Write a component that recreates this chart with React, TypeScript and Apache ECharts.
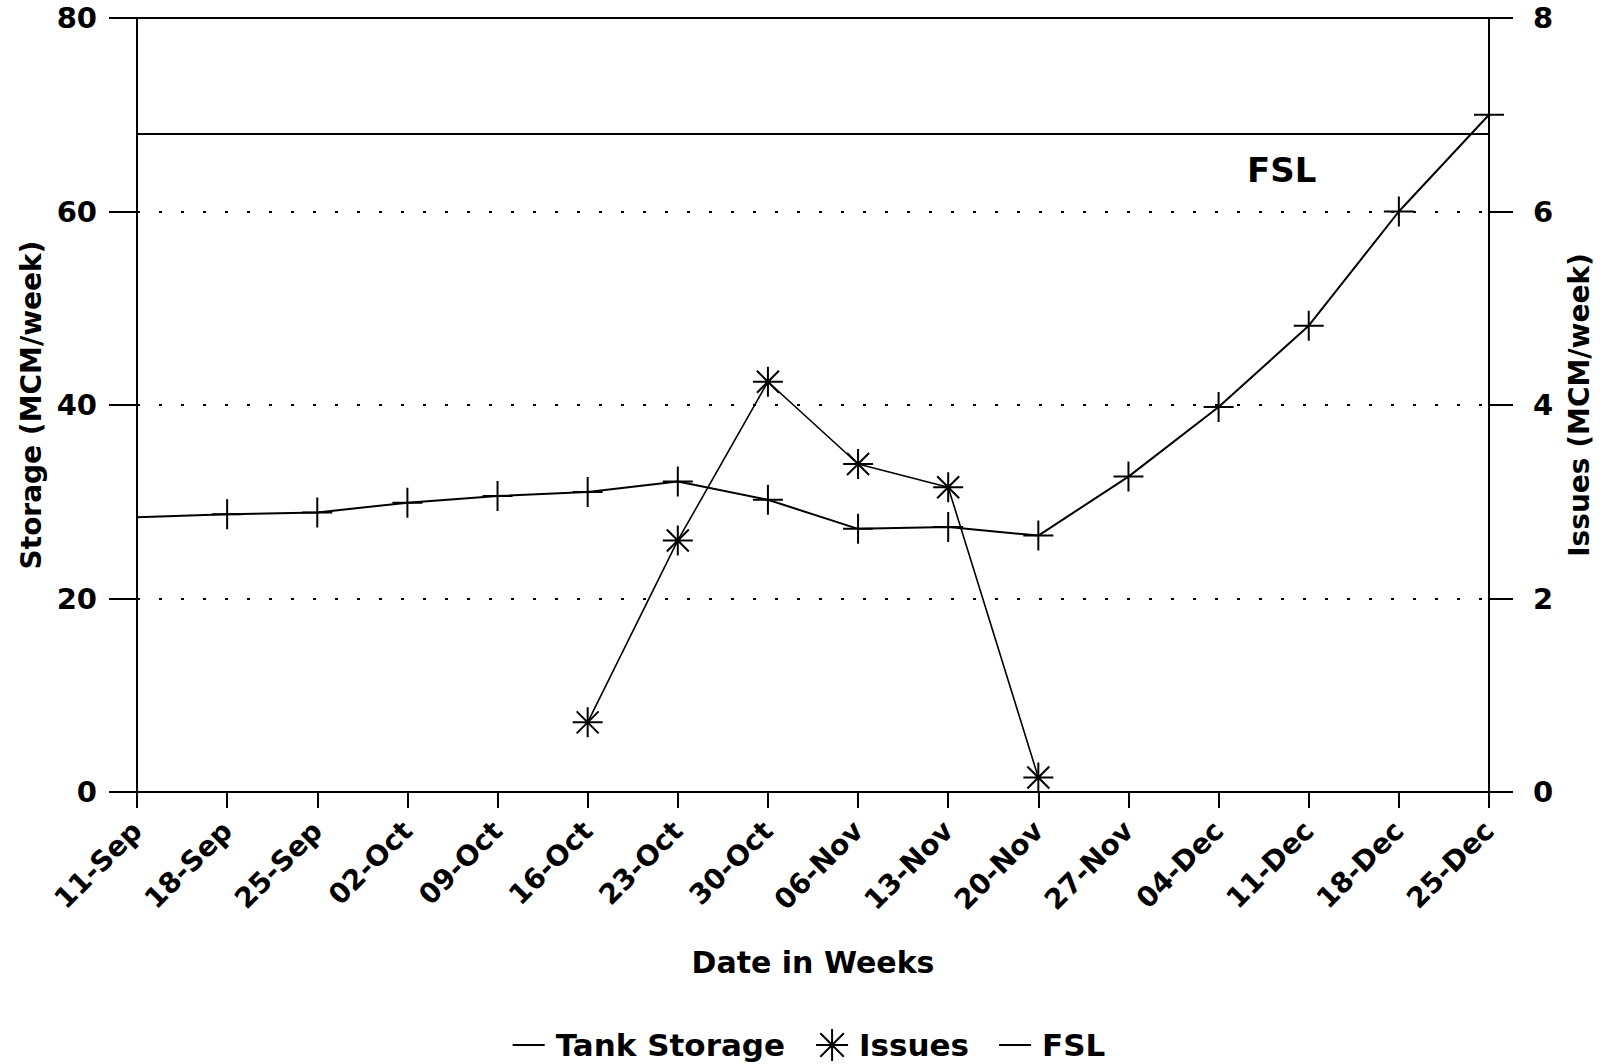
import React, { useEffect, useRef } from "react";
import * as echarts from "echarts";

const categories = [
  "11-Sep", "18-Sep", "25-Sep", "02-Oct", "09-Oct", "16-Oct", "23-Oct", "30-Oct",
  "06-Nov", "13-Nov", "20-Nov", "27-Nov", "04-Dec", "11-Dec", "18-Dec", "25-Dec",
];
const tankStorage = [28.4, 28.7, 28.9, 29.9, 30.6, 31.0, 32.1, 30.2, 27.2, 27.4, 26.5, 32.6, 39.8, 48.2, 60.0, 70.0];
const issues = [null, null, null, null, null, 0.72, 2.6, 4.24, 3.39, 3.15, 0.15, null, null, null, null, null];
const fsl = [68, 68, 68, 68, 68, 68, 68, 68, 68, 68, 68, 68, 68, 68, 68, 68];

const FONT = "DejaVu Sans";
const CROSS = "path://M0,15 L30,15 M15,0 L15,30";
const STAR = "path://M0,15 L30,15 M15,0 L15,30 M4,4 L26,26 M26,4 L4,26";
const DASH = "path://M0,0 L30,0 L30,2 L0,2 Z";

export default function App() {
  const ref = useRef<HTMLDivElement>(null);
  useEffect(() => {
    document.body.style.margin = "0";
    const chart = echarts.init(ref.current!, null, { renderer: "svg" });
    chart.setOption({
      animation: false,
      backgroundColor: "#ffffff",
      textStyle: { fontFamily: FONT, color: "#000" },
      grid: { left: 137, right: 129, top: 18, bottom: 272, show: true, borderColor: "#000", borderWidth: 2 },
      legend: {
        bottom: -3,
        left: "center",
        itemWidth: 32,
        itemHeight: 32,
        itemGap: 30,
        textStyle: { fontFamily: FONT, fontWeight: "bold", fontSize: 31, color: "#000", padding: [0, 0, 0, 6] },
        data: [
          { name: "Tank Storage", icon: DASH, itemStyle: { color: "#000", borderWidth: 0 } },
          { name: "Issues", icon: STAR, itemStyle: { color: "transparent", borderColor: "#000", borderWidth: 2 } },
          { name: "FSL", icon: DASH, itemStyle: { color: "#000", borderWidth: 0 } },
        ],
      },
      xAxis: {
        type: "category",
        data: categories,
        boundaryGap: false,
        name: "Date in Weeks",
        nameLocation: "middle",
        nameGap: 155,
        nameTextStyle: { fontFamily: FONT, fontWeight: "bold", fontSize: 30, color: "#000" },
        axisLine: { lineStyle: { color: "#000", width: 2 } },
        axisTick: { length: 16, lineStyle: { color: "#000", width: 2 } },
        axisLabel: { rotate: 45, margin: 34, fontFamily: FONT, fontWeight: "bold", fontSize: 28, color: "#000", interval: 0 },
      },
      yAxis: [
        {
          type: "value",
          min: 0,
          max: 80,
          interval: 20,
          name: "Storage (MCM/week)",
          nameLocation: "middle",
          nameRotate: 90,
          nameGap: 90,
          nameTextStyle: { fontFamily: FONT, fontWeight: "bold", fontSize: 28, color: "#000" },
          axisLine: { show: true, lineStyle: { color: "#000", width: 2 } },
          axisTick: { show: true, length: 28, lineStyle: { color: "#000", width: 2 } },
          axisLabel: { margin: 40, fontFamily: FONT, fontWeight: "bold", fontSize: 29, color: "#000" },
          splitLine: { show: true, lineStyle: { color: "#000", width: 2, type: [3, 19] } },
        },
        {
          type: "value",
          min: 0,
          max: 8,
          interval: 2,
          position: "right",
          name: "Issues (MCM/week)",
          nameLocation: "middle",
          nameRotate: 90,
          nameGap: 76,
          nameTextStyle: { fontFamily: FONT, fontWeight: "bold", fontSize: 28, color: "#000" },
          axisLine: { show: true, lineStyle: { color: "#000", width: 2 } },
          axisTick: { show: true, length: 24, lineStyle: { color: "#000", width: 2 } },
          axisLabel: { margin: 44, fontFamily: FONT, fontWeight: "bold", fontSize: 29, color: "#000" },
          splitLine: { show: false },
        },
      ],
      series: [
        {
          name: "Tank Storage",
          type: "line",
          yAxisIndex: 0,
          data: tankStorage,
          symbol: (_v: any, p: any) => (p && p.dataIndex === 0 ? "none" : CROSS),
          symbolSize: 30,
          showAllSymbol: true,
          lineStyle: { color: "#000", width: 2 },
          itemStyle: { color: "transparent", borderColor: "#000", borderWidth: 2 },
          z: 3,
        },
        {
          name: "Issues",
          type: "line",
          yAxisIndex: 1,
          data: issues,
          symbol: STAR,
          symbolSize: 30,
          showAllSymbol: true,
          connectNulls: false,
          lineStyle: { color: "#000", width: 1.6 },
          itemStyle: { color: "transparent", borderColor: "#000", borderWidth: 2 },
          z: 4,
        },
        {
          name: "FSL",
          type: "line",
          yAxisIndex: 0,
          data: fsl,
          symbol: "none",
          lineStyle: { color: "#000", width: 2 },
          itemStyle: { color: "#000" },
          markPoint: {
            symbol: "circle",
            symbolSize: 1,
            itemStyle: { color: "transparent" },
            label: {
              show: true,
              formatter: "FSL",
              position: "inside",
              offset: [-27, 36],
              fontFamily: FONT,
              fontWeight: "bold",
              fontSize: 34,
              color: "#000",
            },
            data: [{ coord: ["11-Dec", 68] }],
          },
        },
      ],
    });
    return () => chart.dispose();
  }, []);
  return <div ref={ref} style={{ width: 1618, height: 1064 }} />;
}
